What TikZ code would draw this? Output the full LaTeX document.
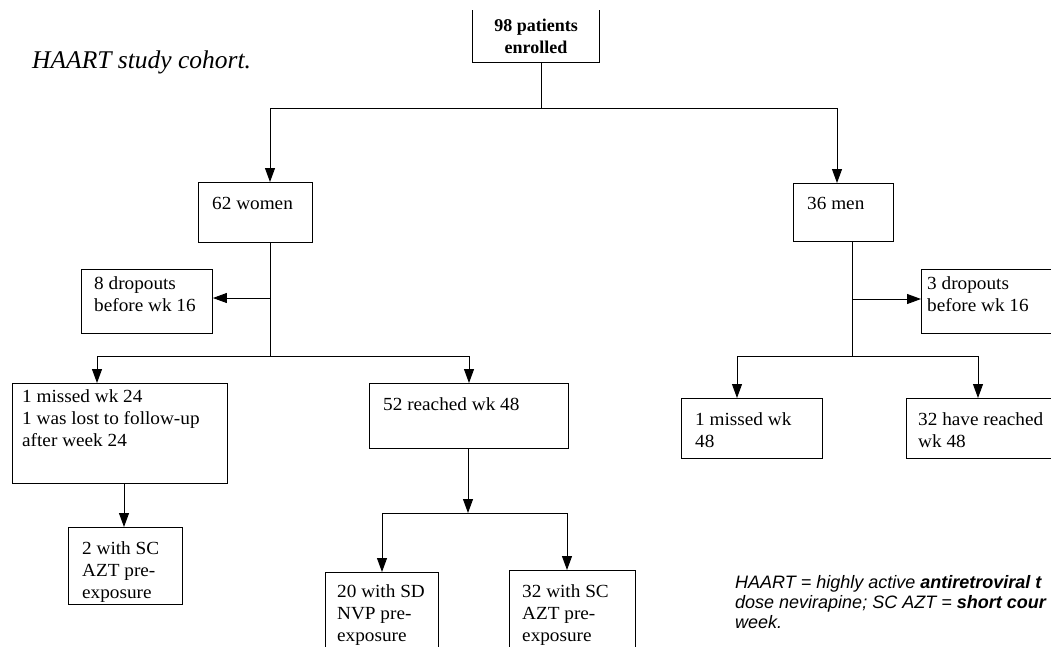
\documentclass[tikz,border=0pt]{standalone}
\usepackage{fontspec}
\setmainfont{Liberation Serif}
\newfontfamily\fnfont{Liberation Sans}
\usetikzlibrary{arrows.meta}
\begin{document}
\begin{tikzpicture}[x=1pt,y=-1pt,
  box/.style={draw, line width=0.9pt, anchor=north west, inner sep=0pt},
  txt/.style={anchor=north west, inner sep=0pt, align=left, font=\fontsize{18.5}{22}\selectfont\addfontfeature{FakeStretch=1.04}},
  ln/.style={line width=0.9pt},
  arr/.style={ln, -{Triangle[length=14pt,width=10pt]}}]
\useasboundingbox (0,0) rectangle (1051,646);
\clip (0,0) rectangle (1051,646);

% title
\node[anchor=west, inner sep=0pt, font=\itshape\fontsize{25.5}{30}\selectfont] (title) at (32,62) {HAART study cohort.};

% top box (open at top)
\node[anchor=north west, inner sep=0pt, minimum width=127pt, minimum height=52pt] (top) at (472,10) {};
\draw[ln] (top.north west) -- (top.south west) -- (top.south east) -- (top.north east);
\node[inner sep=0pt, align=center, font=\bfseries\fontsize{18}{22}\selectfont] (toptxt) at (536,36) {98 patients\\enrolled};

% boxes
\node[box, minimum width=114pt, minimum height=60pt] (w) at (198,182) {};
\node[txt] (wt) at (212,197) {62 women};
\node[box, minimum width=100pt, minimum height=58pt] (m) at (793,183) {};
\node[txt] (mt) at (807,197) {36 men};

\node[box, minimum width=131pt, minimum height=64pt] (dL) at (81,269) {};
\node[txt] (dLt) at (94,276) {8 dropouts\\before wk 16};
\node[box, minimum width=140pt, minimum height=64pt] (dR) at (921,269) {};
\node[txt] (dRt) at (927,276) {3 dropouts\\before wk 16};

\node[box, minimum width=215pt, minimum height=100pt] (m24) at (12,383) {};
\node[txt] (m24t) at (22,389) {1 missed wk 24\\1 was lost to follow-up\\after week 24};
\node[box, minimum width=199pt, minimum height=65pt] (r52) at (369,383) {};
\node[txt] (r52t) at (383,397) {52 reached wk 48};

\node[box, minimum width=141pt, minimum height=60pt] (m48) at (681,398) {};
\node[txt] (m48t) at (695,412) {1 missed wk\\48};
\node[box, minimum width=160pt, minimum height=60pt] (r32) at (906,398) {};
\node[txt] (r32t) at (918,412) {32 have reached\\wk 48};

\node[box, minimum width=114pt, minimum height=77pt] (sc2) at (68,527) {};
\node[txt] (sc2t) at (82,541) {2 with SC\\AZT pre-\\exposure};
\node[box, minimum width=113pt, minimum height=90pt] (sd20) at (325,572) {};
\node[txt] (sd20t) at (337,584) {20 with SD\\NVP pre-\\exposure};
\node[box, minimum width=126pt, minimum height=90pt] (sc32) at (509,570) {};
\node[txt] (sc32t) at (522,584) {32 with SC\\AZT pre-\\exposure};

% connectors
\coordinate (j0) at (541,108);
\draw[ln] (541,0 |- top.south) -- (j0);
\draw[arr] (j0) -| (270,0 |- w.north);
\draw[arr] (j0) -| (837,0 |- m.north);

\coordinate (jw) at (270,356);
\coordinate (jwd) at (270,298);
\draw[ln] (270,0 |- w.south) -- (jw);
\draw[arr] (jwd) -- (dL.east |- jwd);
\draw[arr] (jw) -| (97,0 |- m24.north);
\draw[arr] (jw) -| (469,0 |- r52.north);

\coordinate (j52) at (468,513);
\coordinate (j52l) at (382,513);
\coordinate (j52r) at (567,513);
\draw[arr] (468,0 |- r52.south) -- (j52);
\draw[ln] (j52l) -- (j52r);
\draw[arr] (j52l) -- (j52l |- sd20.north);
\draw[arr] (j52r) -- (j52r |- sc32.north);

\draw[arr] (124,0 |- m24.south) -- (124,0 |- sc2.north);

\coordinate (jm) at (852,356);
\coordinate (jmd) at (852,299);
\draw[ln] (852,0 |- m.south) -- (jm);
\draw[arr] (jmd) -- (dR.west |- jmd);
\draw[arr] (jm) -| (737,0 |- m48.north);
\draw[arr] (jm) -| (978,0 |- r32.north);

% footnote
\node[anchor=north west, inner sep=0pt, align=left, font=\fnfont\itshape\fontsize{18}{20}\selectfont] (fn) at (735,575)
 {HAART = highly active {\bfseries antiretroviral t}\\dose nevirapine; SC AZT = {\bfseries short cour}\\week.};
\end{tikzpicture}
\end{document}
